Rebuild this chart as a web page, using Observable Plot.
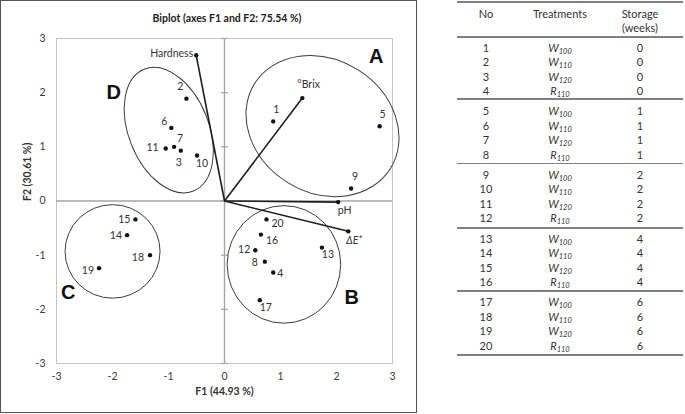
<!DOCTYPE html>
<html><head><meta charset="utf-8">
<script src="https://cdn.jsdelivr.net/npm/d3@7"></script>
<script src="https://cdn.jsdelivr.net/npm/@observablehq/plot@0.6"></script>
<style>
html,body{margin:0;padding:0;background:#fff;}
#wrap{position:relative;width:685px;height:414px;overflow:hidden;font-family:Lato,"Open Sans",sans-serif;color:#333;}
#chart{position:absolute;left:0;top:0;}
#border{position:absolute;left:0;top:0;width:417px;height:413px;border:1.5px solid #555;box-sizing:border-box;pointer-events:none;}
.cell{position:absolute;width:100px;text-align:center;font-size:11px;line-height:14px;color:#333;white-space:nowrap;}
.cell sub{font-size:7.5px;vertical-align:-2px;line-height:0;}
.rule{position:absolute;left:457px;width:226px;background:#808080;}
</style></head><body>
<div id="wrap"><div id="chart"></div><div id="table"></div><div id="border"></div></div>
<script>
// ---------- data ----------
const obsLabels = ["1","2","3","4","5","6","7","8","9","10","11","12","13","14","15","16","17","18","19","20"];
const obsF1 = [0.87,-0.68,-0.78,0.87,2.77,-0.95,-0.90,0.72,2.26,-0.49,-1.05,0.55,1.74,-1.74,-1.59,0.65,0.63,-1.33,-2.24,0.75];
const obsF2 = [1.47,1.89,0.93,-1.32,1.38,1.35,1.00,-1.12,0.23,0.84,0.97,-0.91,-0.86,-0.63,-0.34,-0.62,-1.83,-1.00,-1.24,-0.34];
const varNames = ["Hardness","°Brix","pH","ΔE*"];
const varF1 = [-0.505,1.39,2.03,2.21];
const varF2 = [2.69,1.90,-0.02,-0.56];
const clusterNames = ["A","B","C","D"];
const clusterF1 = [2.71,2.27,-2.79,-1.98];
const clusterF2 = [2.66,-1.79,-1.70,2.00];
const axisTicks = [-3,-2,-1,0,1,2,3];
const titleText = "Biplot (axes F1 and F2: 75.54 %)";
const xLabelText = "F1 (44.93 %)";
const yLabelText = "F2 (30.61 %)";

const tableHeaders = ["No","Treatments","Storage"];
const tableNo = obsLabels;
const tableTreatLetter = ["W","W","W","R","W","W","W","R","W","W","W","R","W","W","W","R","W","W","W","R"];
const tableTreatSub = ["100","110","120","110","100","110","120","110","100","110","120","110","100","110","120","110","100","110","120","110"];
const tableStorage = ["0","0","0","0","1","1","1","1","2","2","2","2","4","4","4","4","6","6","6","6"];

// ---------- layout (not data) ----------
const labelPlace = {
  "1":["middle",3,-12],"2":["middle",-6,-12],"3":["middle",-2,12],"4":["start",4,1],
  "5":["middle",3,-12],"6":["middle",-7,-6],"7":["middle",6,-8],"8":["end",-7,1],
  "9":["middle",4,-12],"10":["middle",5,8.5],"11":["end",-7,-1],"12":["end",-5,-1],
  "13":["middle",6,7],"14":["end",-5,0],"15":["end",-5,0],"16":["start",5,6],
  "17":["middle",6,7],"18":["end",-6,2],"19":["end",-5,2],"20":["start",5,4]
};
const varPlace = {"Hardness":["end",-3,-2],"°Brix":["start",-5,-13],"pH":["middle",6.5,9],"ΔE*":["middle",6,9]};
// ellipse outlines: centre (F1,F2), semi-axes (F units), rotation (deg, clockwise on screen)
const ellipseShapes = [
  {f1:1.759, f2:1.375, rx:1.43, ry:1.227, rot:32},
  {f1:1.07, f2:-1.18, rx:1.014, ry:1.085, rot:0},
  {f1:-1.99, f2:-0.94, rx:0.848, ry:0.863, rot:0},
  {f1:-0.986, f2:1.30, rx:1.173, ry:0.74, rot:68}
];

const obs = obsLabels.map((l,i)=>({label:l, f1:obsF1[i], f2:obsF2[i]}));
const vars = varNames.map((n,i)=>({name:n, f1:varF1[i], f2:varF2[i]}));
const clusters = clusterNames.map((n,i)=>({name:n, f1:clusterF1[i], f2:clusterF2[i]}));

const hTick = {draw(ctx, size){ const r = Math.sqrt(size/Math.PI); ctx.moveTo(-r,0); ctx.lineTo(r,0); }};

function ellipseMark(index, scales){
  const g = d3.create("svg:g");
  const kx = scales.x(1) - scales.x(0);
  const ky = scales.y(0) - scales.y(1);
  for (const e of ellipseShapes){
    const cx = scales.x(e.f1), cy = scales.y(e.f2);
    g.append("ellipse").attr("cx",cx).attr("cy",cy).attr("rx",e.rx*kx).attr("ry",e.ry*ky)
      .attr("transform",`rotate(${e.rot} ${cx} ${cy})`)
      .attr("fill","none").attr("stroke","#3c3c3c").attr("stroke-width",1);
  }
  return g.node();
}

const labelColor = "#333";
const marks = [
  Plot.frame({stroke:"#c4c4c4"}),
  Plot.ruleX([0],{stroke:"#a4a4a4", strokeWidth:1.4}),
  Plot.ruleY([0],{stroke:"#a4a4a4", strokeWidth:1.4}),
  Plot.dot(axisTicks,{x:()=>0, y:d=>d, symbol:hTick, r:3.5, stroke:"#a4a4a4", fill:"none", strokeWidth:1.2}),
  ellipseMark,
  Plot.link(vars,{x1:()=>0, y1:()=>0, x2:"f1", y2:"f2", stroke:"#1e1e1e", strokeWidth:1.6}),
  Plot.dot(vars,{x:"f1", y:"f2", r:2.2, fill:"#111", stroke:null}),
  Plot.dot(obs,{x:"f1", y:"f2", r:2.2, fill:"#111", stroke:null}),
  ...obs.map(d=>{const p=labelPlace[d.label]; return Plot.text([d],{x:"f1",y:"f2",text:"label",textAnchor:p[0],dx:p[1],dy:p[2],fill:labelColor,fontSize:10.5});}),
  ...vars.map(d=>{const p=varPlace[d.name]; return Plot.text([d],{x:"f1",y:"f2",text:"name",textAnchor:p[0],dx:p[1],dy:p[2],fill:labelColor,fontSize:10.5,fontStyle:d.name==="ΔE*"?"italic":"normal"});}),
  Plot.text(clusters,{x:"f1",y:"f2",text:"name",fill:"#111",fontSize:20,fontWeight:"bold",fontFamily:"Liberation Sans, Arial, sans-serif"}),
  Plot.text([titleText],{text:d=>d, frameAnchor:"top", dy:-24, dx:2.5, fontWeight:"bold", fontSize:10.5, fill:"#222"}),
  Plot.text([xLabelText],{text:d=>d, frameAnchor:"bottom", dy:31, fontWeight:"bold", fontSize:10.5, fill:"#333"}),
  Plot.text([yLabelText],{text:d=>d, frameAnchor:"left", dx:-29, rotate:-90, fontWeight:"bold", fontSize:10.5, fill:"#333"})
];

const chart = Plot.plot({
  width:418, height:414,
  marginLeft:56, marginRight:26, marginTop:38, marginBottom:51,
  x:{domain:[-3,3], ticks:axisTicks, tickSize:0, tickPadding:9, tickFormat:d=>String(d), label:null},
  y:{domain:[-3,3], ticks:axisTicks, tickSize:0, tickPadding:11, tickFormat:d=>String(d), label:null},
  style:{fontFamily:"Lato, 'Open Sans', sans-serif", fontSize:"10.5px", color:"#3b3b3b", background:"transparent"},
  marks
});
document.getElementById("chart").appendChild(chart);

// ---------- table ----------
const tbl = document.getElementById("table");
const colX = [486, 560, 640];
function cell(html, cx, cy){
  const d = document.createElement("div");
  d.className = "cell";
  d.style.left = (cx-50)+"px";
  d.style.top = (cy-7)+"px";
  d.innerHTML = html;
  tbl.appendChild(d);
}
function rule(y, h){
  const d = document.createElement("div");
  d.className = "rule";
  d.style.top = (y - h/2)+"px";
  d.style.height = h+"px";
  tbl.appendChild(d);
}
cell(tableHeaders[0], colX[0], 14);
cell(tableHeaders[1], colX[1], 14);
cell(tableHeaders[2], colX[2], 14);
cell("(weeks)", colX[2], 27.5);
rule(1.8, 2.2);
rule(36.7, 2.2);
const groupStart = 47.7, groupStep = 63.6, rowStep = 14.5;
tableNo.forEach((n,i)=>{
  const g = Math.floor(i/4), r = i%4;
  const y = groupStart + g*groupStep + r*rowStep;
  cell(n, colX[0], y);
  cell(`<i>${tableTreatLetter[i]}<sub>${tableTreatSub[i]}</sub></i>`, colX[1], y);
  cell(tableStorage[i], colX[2], y);
});
[99, 163.5, 228.3, 291].forEach(y=>rule(y, 1.8));
rule(355, 2.2);
</script>
</body></html>
